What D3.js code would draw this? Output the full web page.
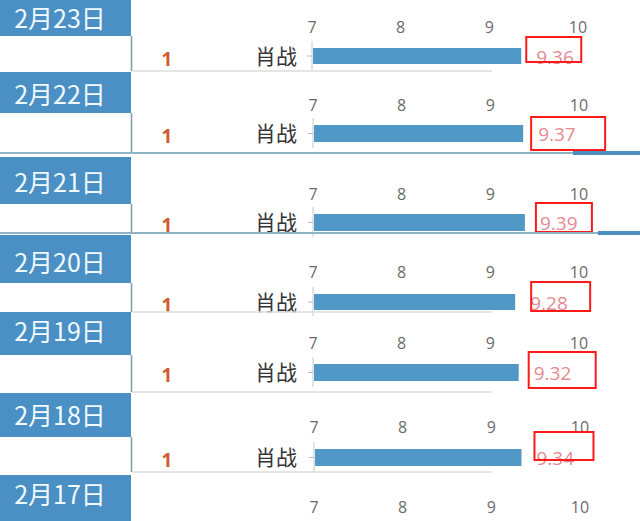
<!DOCTYPE html>
<html><head><meta charset="utf-8">
<script src="https://cdn.jsdelivr.net/npm/d3@7/dist/d3.min.js"></script>
<style>html,body{margin:0;padding:0;background:#fff;overflow:hidden}</style>
</head><body>
<svg id="c" width="640" height="521"></svg>
<script>
// ---- data ----
const dates  = ['2月23日','2月22日','2月21日','2月20日','2月19日','2月18日','2月17日'];
const names  = ['肖战','肖战','肖战','肖战','肖战','肖战','肖战'];
const ranks  = [1,1,1,1,1,1,1];
const values = [9.36,9.37,9.39,9.28,9.32,9.34,null];
const ticks  = [7,8,9,10];

// ---- layout (screenshot frames) ----
const frames = [
 {top:0,   boxB:36,  labelY:19,  tickY:27,  barT:48,  barB:64,  sep:71,  sepType:'light', dx:0, rb:[5,37,55,25]},
 {top:72,  boxB:113, labelY:95,  tickY:105, barT:125, barB:142, sep:153, sepType:'teal', blueX:573, dx:1, rb:[8,117,74,33]},
 {top:157, boxB:204, labelY:183, tickY:194, barT:214, barB:231, sep:233, sepType:'teal', blueX:598, dx:1, rb:[11,203,56,29]},
 {top:235, boxB:283, labelY:263, tickY:272, barT:294, barB:310, sep:312, sepType:'light', dx:1, rb:[16,282,59,29]},
 {top:312, boxB:355, labelY:332, tickY:343, barT:364, barB:381, sep:392, sepType:'light', dx:1, rb:[10,352,67,36]},
 {top:393, boxB:437, labelY:416, tickY:427, barT:449, barB:466, sep:472, sepType:'light', dx:2, rb:[13,432,59,28]},
 {top:475, boxB:540, labelY:495, tickY:507, barT:530, barB:546, sep:560, sepType:'light', dx:2, rb:null}
];

const W = 640, H = 521;
const svg = d3.select('#c');
const cjk = '"Noto Sans CJK SC","Noto Sans",sans-serif';
const num = '"Open Sans","Noto Sans",sans-serif';
const boxColor = '#4a90c4', barColor = '#5098c6';

dates.forEach((d,i)=>{
  const f = frames[i];
  const g = svg.append('g');
  const x = d3.scaleLinear().domain([7,10]).range([312+f.dx, 578+f.dx]);

  // date box
  g.append('rect').attr('x',0).attr('y',f.top).attr('width',131).attr('height',f.boxB-f.top).attr('fill',boxColor);
  g.append('text').attr('x',60).attr('y',f.labelY).attr('dy','0.36em').attr('text-anchor','middle')
    .attr('fill','#f2faff').attr('font-family',cjk).attr('font-size',25).attr('font-weight',400).text(d);
  // vertical line under box
  g.append('line').attr('x1',131.5).attr('x2',131.5).attr('y1',f.boxB).attr('y2',f.sep)
    .attr('stroke','#7f9aa6').attr('stroke-width',1.5);

  // axis ticks at top
  g.selectAll('text.tk').data(ticks).join('text')
    .attr('x',t=>x(t)).attr('y',f.tickY).attr('dy','0.36em').attr('text-anchor','middle')
    .attr('fill','#6b6b6b').attr('font-family',num).attr('font-size',16).text(t=>t);

  const bc = (f.barT+f.barB)/2;
  // y axis line and tick
  g.append('line').attr('x1',x(7)).attr('x2',x(7)).attr('y1',f.barT-7).attr('y2',Math.min(f.barB+6,H))
    .attr('stroke','#c8c8c8').attr('stroke-width',1);

  if (bc + 12 < H) {
    g.append('line').attr('x1',x(7)-5).attr('x2',x(7)).attr('y1',bc).attr('y2',bc)
      .attr('stroke','#b8b8b8').attr('stroke-width',1);
    // rank and name
    g.append('text').attr('x',167).attr('y',bc+3).attr('dy','0.36em').attr('text-anchor','middle')
      .attr('fill','#d25a30').attr('font-family',num).attr('font-weight',700).attr('font-size',19).text(ranks[i]);
    g.append('text').attr('x',297).attr('y',bc).attr('dy','0.36em').attr('text-anchor','end')
      .attr('fill','#333').attr('font-family',cjk).attr('font-size',21).text(names[i]);
  }

  if (values[i] != null) {
    const v = values[i];
    g.append('rect').attr('x',x(7)+1).attr('y',f.barT).attr('width',x(v)-x(7)-1).attr('height',f.barB-f.barT)
      .attr('fill',barColor);
    g.append('text').attr('x',x(v)+15).attr('y',bc+1).attr('dy','0.36em')
      .attr('fill','#e58a90').attr('font-family',num).attr('font-size',19).text(v.toFixed(2));
    if (f.rb) {
      g.append('rect').attr('x',x(v)+f.rb[0]).attr('y',f.rb[1]).attr('width',f.rb[2]).attr('height',f.rb[3])
        .attr('fill','none').attr('stroke','#ff1a1a').attr('stroke-width',2);
    }
  }

  // separators
  if (f.sep < H) {
    if (f.sepType==='light') {
      g.append('line').attr('x1',132).attr('x2',492).attr('y1',f.sep).attr('y2',f.sep)
        .attr('stroke','#dcdcdc').attr('stroke-width',1.5);
    } else {
      g.append('line').attr('x1',0).attr('x2',W).attr('y1',f.sep).attr('y2',f.sep)
        .attr('stroke','#8fb4c4').attr('stroke-width',2);
      g.append('rect').attr('x',f.blueX).attr('y',f.sep-2).attr('width',W-f.blueX).attr('height',4)
        .attr('fill','#4a8fc0');
    }
  }
});
</script>
</body></html>
